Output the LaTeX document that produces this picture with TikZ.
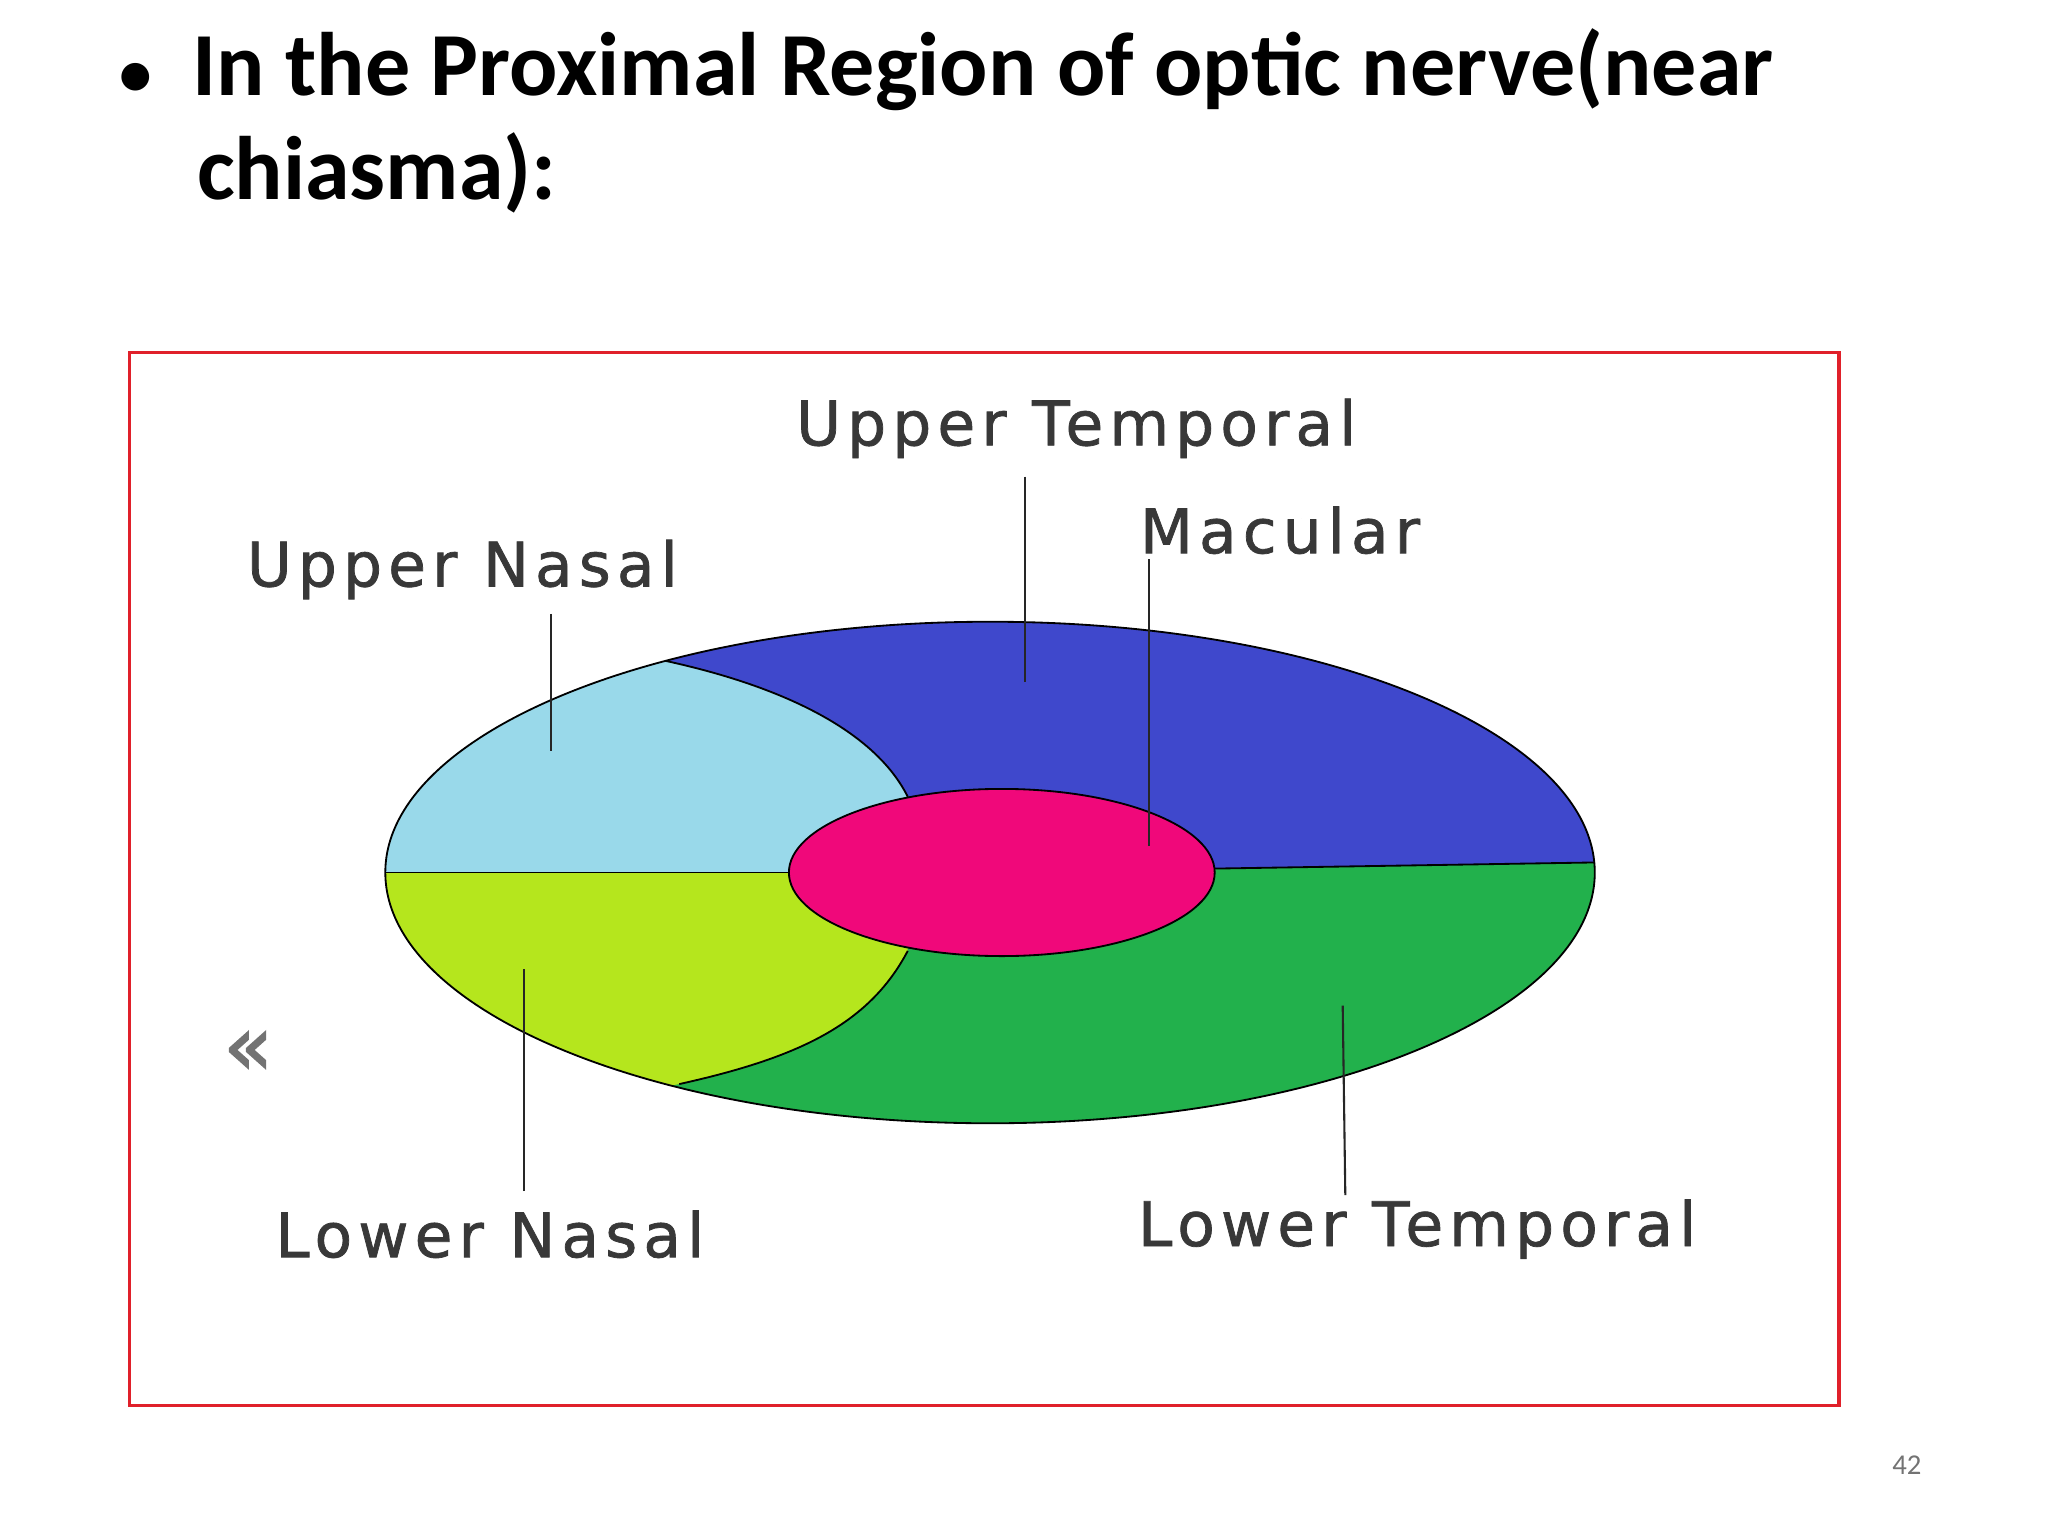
\documentclass[tikz,border=0pt]{standalone}
\usepackage{fontspec}
\usetikzlibrary{shapes.geometric}
\setmainfont{Carlito}
\newfontfamily\lbl[LetterSpace=10,FakeBold=1.2]{DejaVu Sans}
\newfontfamily\arrf[FakeBold=2]{DejaVu Sans}
\definecolor{cblue}{HTML}{3F48CC}
\definecolor{clblue}{HTML}{99D9EA}
\definecolor{cgreen}{HTML}{22B14C}
\definecolor{clime}{HTML}{B5E61D}
\definecolor{cpink}{HTML}{F0087A}
\definecolor{cred}{HTML}{E0202A}
\tikzset{lab/.style={font=\lbl\fontsize{47}{47}\selectfont, text=black!78},
 leader/.style={draw=black!85, line width=1.6pt},
 rim/.style={draw=black, line width=1.4pt}}
\begin{document}
\begin{tikzpicture}[x=1pt,y=-1pt]
\useasboundingbox (0,0) rectangle (1568,1176);
\fill[white] (0,0) rectangle (1568,1176);
\node[anchor=north west, align=left, font=\bfseries\fontsize{69}{80}\selectfont] (title) at (88,18)
 {{\fontsize{50}{50}\selectfont\textbullet}\hspace{0.45em}In the Proximal Region of optic nerve(near\\\hspace{0.86em}chiasma):};
\draw[cred, line width=2.5pt] (99,270) rectangle (1408,1076);
\begin{scope}
\clip (758,668) ellipse [x radius=463, y radius=192];
\fill[cgreen] (280,460) rectangle (1240,880);
\fill[cblue] (280,668) -- (930,665) -- (1240,660) -- (1240,460) -- (280,460) -- cycle;
\fill[clblue] (280,668) -- (690,668) -- (695,610) .. controls (670,560) and (600,525) .. (505,505) -- (280,470) -- cycle;
\fill[clime] (280,668) -- (690,668) -- (695,728) .. controls (665,785) and (610,810) .. (520,830) -- (280,870) -- cycle;
\draw[rim] (280,668) -- (604,668);
\draw[rim] (930,665) -- (1240,660);
\draw[rim] (695,610) .. controls (670,560) and (600,525) .. (505,505);
\draw[rim] (695,728) .. controls (665,785) and (610,810) .. (520,830);
\end{scope}
\draw[rim] (758,668) ellipse [x radius=463, y radius=192];
\node[rim, fill=cpink, ellipse, minimum width=326, minimum height=128, inner sep=0] (mac) at (767,668) {};
\node[lab] (ut) at (824,328) {Upper Temporal};
\node[lab] (mc) at (980,406) {Macular};
\node[lab] (un) at (354,436) {Upper Nasal};
\node[lab] (ln) at (375,945) {Lower Nasal};
\node[lab] (lt) at (1085,941) {Lower Temporal};
\coordinate (utE) at (785,522); \draw[leader] (785,365) -- (utE);
\coordinate (mcE) at (880,648); \draw[leader] (880,428) -- (mcE);
\coordinate (unE) at (422,575); \draw[leader] (422,470) -- (unE);
\coordinate (lnE) at (401,742); \draw[leader] (401,912) -- (lnE);
\coordinate (ltE) at (1028,770); \draw[leader] (1030,915) -- (ltE);
\node[text=black!55, font=\arrf\fontsize{62}{62}\selectfont] (arr) at (190,806) {«};
\node[text=black!55, font=\fontsize{22}{22}\selectfont] (pg) at (1460,1122) {42};
\end{tikzpicture}
\end{document}
